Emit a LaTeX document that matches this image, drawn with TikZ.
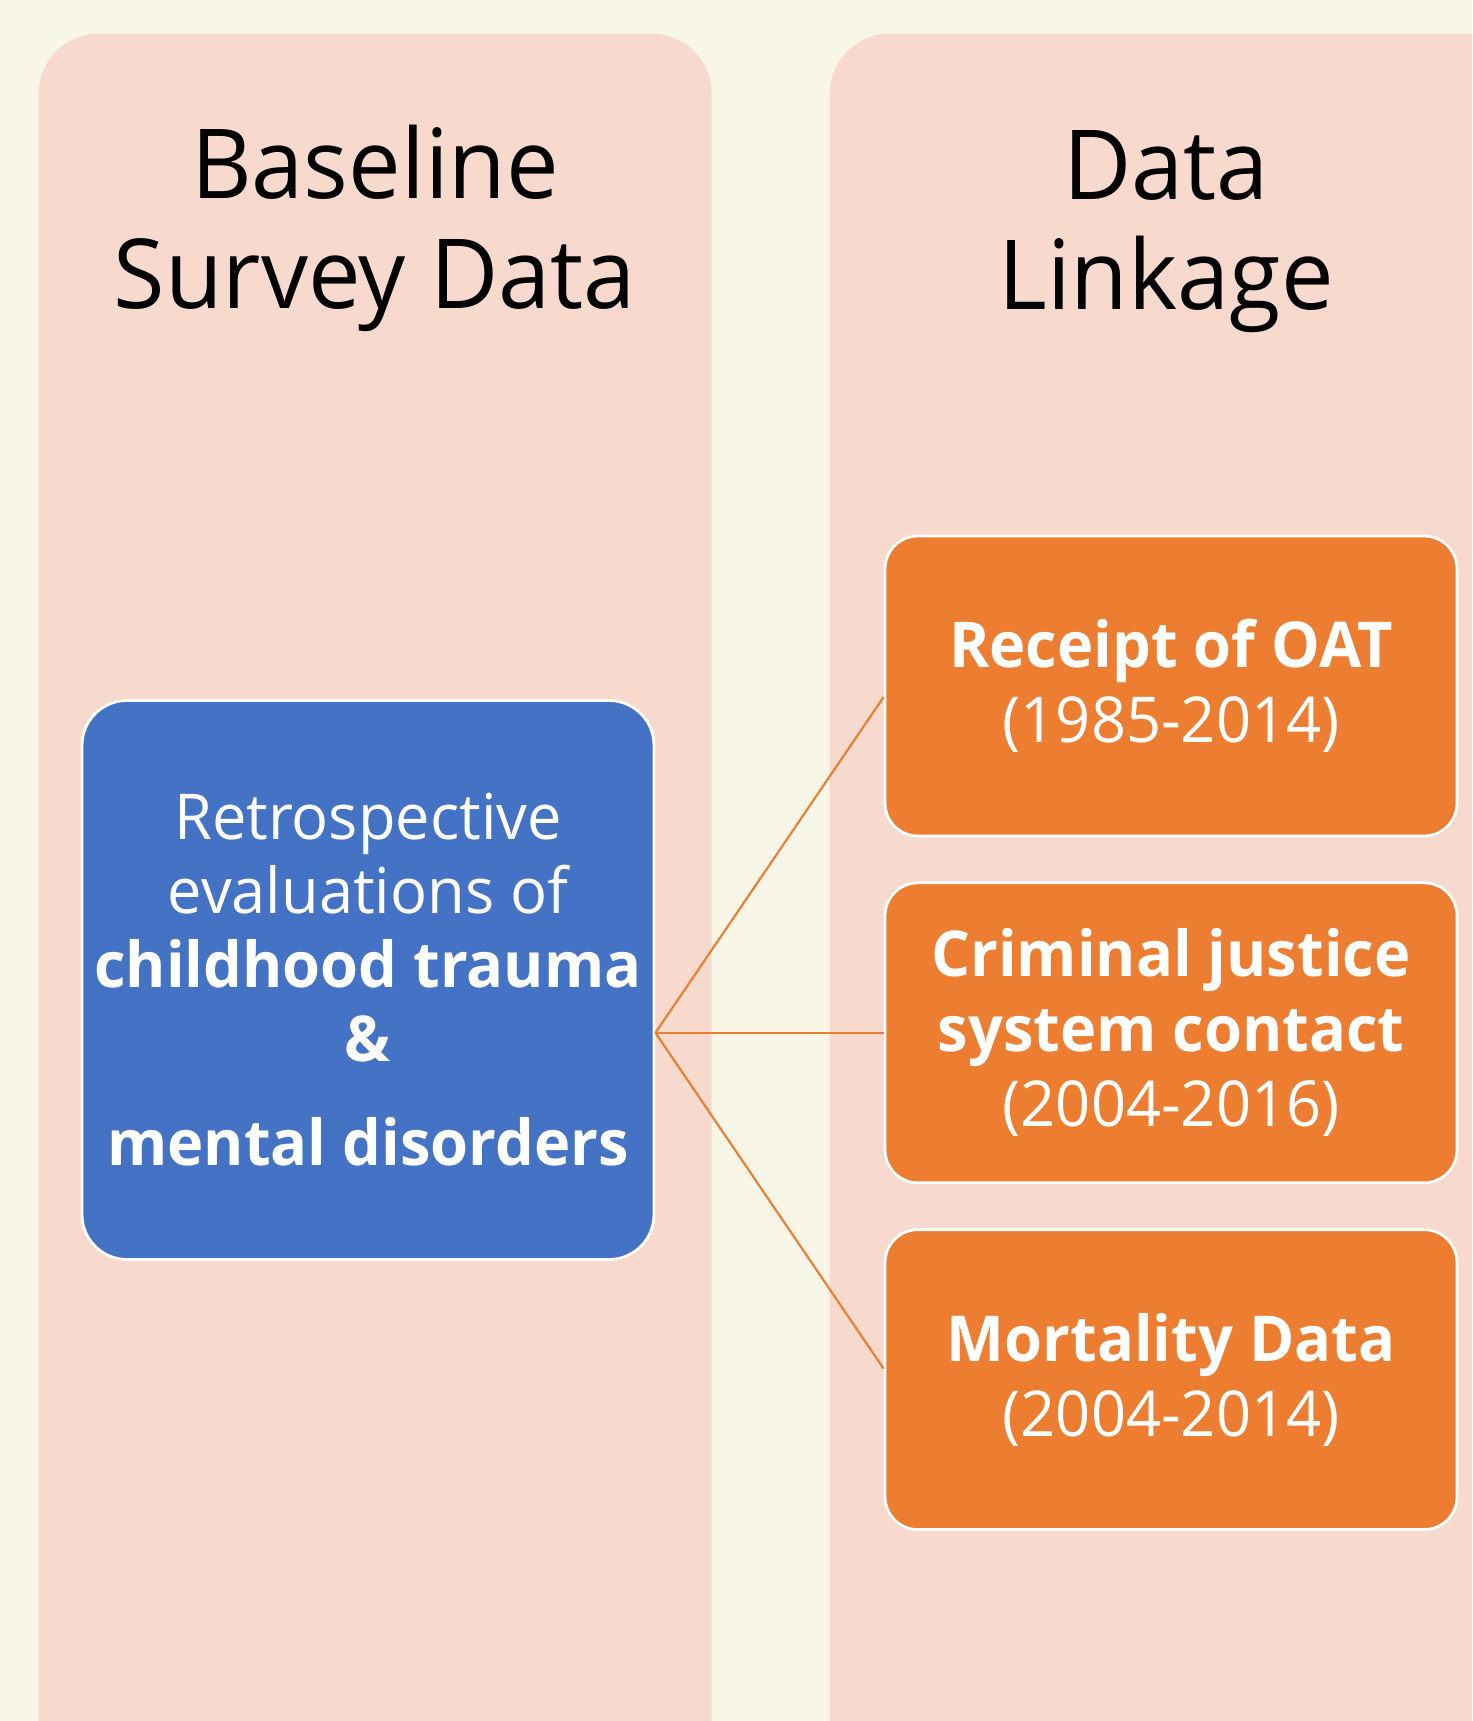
\documentclass[tikz,border=0pt]{standalone}
\usepackage{fontspec}
\setmainfont[FakeStretch=0.97]{Open Sans}
\usepackage{tikz}
\usetikzlibrary{positioning}
\definecolor{cream}{HTML}{F8F6E6}
\definecolor{panelpink}{HTML}{F7D9CE}
\definecolor{surveyblue}{HTML}{4472C4}
\definecolor{linkorange}{HTML}{ED7D31}
\tikzstyle{panel} = [rectangle, fill=panelpink, rounded corners=0.6cm, anchor=north west, inner sep=0pt]
\tikzstyle{heading} = [align=center, font=\fontsize{27.5}{31.3}\selectfont]
\tikzstyle{survey} = [rectangle, fill=surveyblue, draw=white, line width=0.8pt, rounded corners=0.45cm, minimum width=5.72cm, minimum height=5.59cm, text=white, align=center, font=\fontsize{18}{21}\selectfont]
\tikzstyle{linked} = [rectangle, fill=linkorange, draw=white, line width=0.8pt, rounded corners=0.33cm, minimum width=5.72cm, minimum height=3cm, text=white, align=center, font=\fontsize{18}{21.3}\selectfont]
\tikzstyle{line} = [draw, linkorange, line width=0.6pt]

\begin{document}
\begin{tikzpicture}
			\useasboundingbox (0,0) rectangle (14.72,-17.21);
			\fill [cream] (0,0) rectangle (14.72,-17.21);
			\clip (0,0) rectangle (14.72,-17.21);

			\node [panel, minimum width=6.73cm, minimum height=17.5cm] (left) at (0.38,-0.33) {};
			\node [panel, minimum width=7cm, minimum height=17.5cm] (right) at (8.29,-0.33) {};

			\node [heading] (baseline) at (3.75,-2.28) {Baseline\\Survey Data};
			\node [heading] (linkage) at (11.66,-2.32) {Data\\Linkage};

			\node [survey] (trauma) at (3.68,-9.80) {Retrospective\\evaluations of\\\textbf{childhood trauma}\\\textbf{\&}\\[8.8pt]\textbf{mental disorders}};

			\node [linked] (oat) at (11.71,-6.86) {\textbf{Receipt of OAT}\\(1985-2014)};
			\node [linked, below=0.44cm of oat] (justice) {\textbf{Criminal justice}\\\textbf{system contact}\\(2004-2016)};
			\node [linked, below=0.44cm of justice] (mortality) {\textbf{Mortality Data}\\(2004-2014)};

			\coordinate (hub) at (trauma.east |- justice.west);
			\path [line] (hub) -- ([yshift=-0.11cm]oat.west);
			\path [line] (hub) -- (justice.west);
			\path [line] (hub) -- ([yshift=0.11cm]mortality.west);
		\end{tikzpicture}
\end{document}
